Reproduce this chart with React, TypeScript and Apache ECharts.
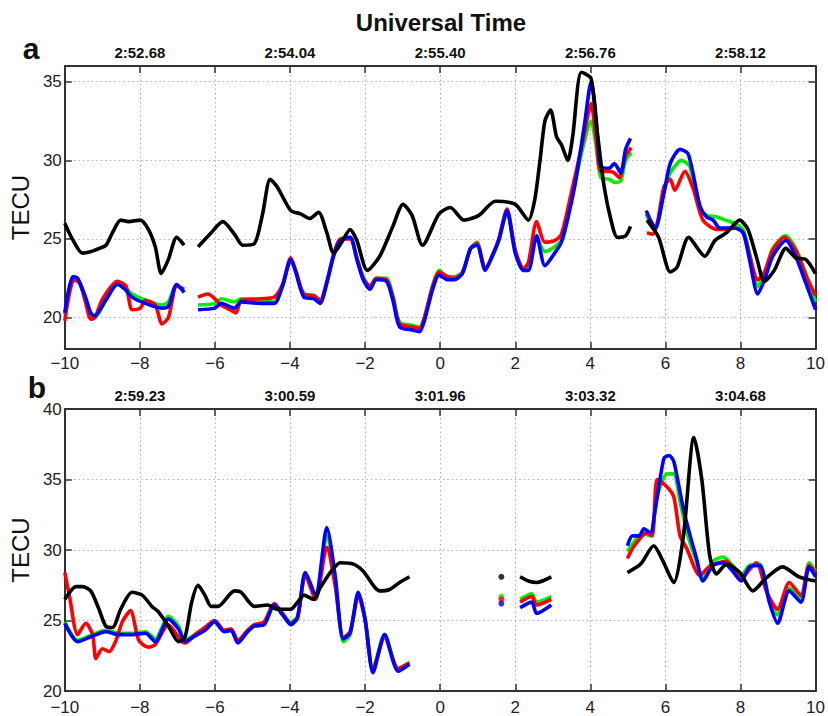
import React, { useEffect, useRef } from "react";
import * as echarts from "echarts";

type Pt = [number, number];

// ---------- tick labels ----------
const xTickValues = [-10, -8, -6, -4, -2, 0, 2, 4, 6, 8, 10];
const topTickPos = [-8, -4, 0, 4, 8];
const aTopLabels = ["2:52.68", "2:54.04", "2:55.40", "2:56.76", "2:58.12"];
const bTopLabels = ["2:59.23", "3:00.59", "3:01.96", "3:03.32", "3:04.68"];
const aYTicks = [20, 25, 30, 35];

// ---------- panel a ----------
const aBlack: Pt[][] = [
  [[-10, 26.0], [-9.8, 25.0], [-9.53, 24.1], [-9.3, 24.2], [-9.08, 24.4], [-8.9, 24.6], [-8.73, 25.4], [-8.51, 26.2], [-8.3, 26.1], [-7.99, 26.2], [-7.77, 25.6], [-7.59, 24.5], [-7.43, 22.8], [-7.24, 23.7], [-7.02, 25.1], [-6.82, 24.6]],
  [[-6.45, 24.5], [-6.1, 25.4], [-5.79, 26.1], [-5.48, 25.3], [-5.26, 24.6], [-4.95, 24.7], [-4.73, 26.6], [-4.53, 28.8], [-4.34, 28.3], [-3.98, 26.8], [-3.72, 26.6], [-3.48, 26.3], [-3.24, 26.7], [-3.02, 25.4], [-2.84, 24.1], [-2.62, 24.8], [-2.4, 25.6], [-2.22, 24.9], [-1.94, 23.0], [-1.61, 23.9], [-1.26, 25.8], [-0.99, 27.2], [-0.75, 26.5], [-0.47, 24.6], [-0.03, 26.6], [0.27, 27.0], [0.63, 26.2], [1.03, 26.5], [1.47, 27.4], [2.0, 27.2], [2.35, 26.2], [2.52, 27.5], [2.66, 30.0], [2.79, 32.5], [2.94, 33.2], [3.1, 31.5], [3.23, 31.0], [3.4, 30.0], [3.53, 31.5], [3.76, 35.6], [4.02, 35.2], [4.2, 31.5], [4.37, 28.3], [4.55, 26.2], [4.72, 25.1], [4.94, 25.2], [5.07, 25.8]],
  [[5.51, 26.2], [5.82, 25.1], [6.13, 22.9], [6.31, 23.2], [6.62, 25.1], [7.05, 23.9], [7.32, 24.9], [7.63, 25.4], [7.98, 26.2], [8.2, 25.6], [8.42, 23.9], [8.64, 22.3], [8.9, 23.0], [9.21, 24.4], [9.47, 23.8], [9.74, 23.7], [10, 22.8]],
];
const aRed: Pt[][] = [
  [[-10, 19.8], [-9.76, 22.4], [-9.6, 22.2], [-9.45, 21.0], [-9.31, 19.9], [-9.2, 20.0], [-8.99, 21.2], [-8.6, 22.3], [-8.37, 22.0], [-8.21, 20.5], [-7.99, 20.6], [-7.85, 21.1], [-7.59, 20.8], [-7.41, 19.6], [-7.24, 20.0], [-7.02, 22.0], [-6.82, 21.8]],
  [[-6.45, 21.3], [-6.19, 21.5], [-5.83, 20.8], [-5.6, 20.5], [-5.44, 20.3], [-5.3, 21.1], [-4.78, 21.2], [-4.42, 21.3], [-4.2, 22.1], [-3.98, 23.8], [-3.85, 23.0], [-3.63, 21.5], [-3.37, 21.4], [-3.2, 21.1], [-3.02, 22.3], [-2.84, 24.0], [-2.66, 25.0], [-2.4, 25.0], [-2.22, 23.8], [-2.05, 22.5], [-1.87, 22.0], [-1.7, 22.5], [-1.43, 22.4], [-1.26, 21.3], [-1.08, 19.6], [-0.73, 19.4], [-0.55, 19.3], [-0.42, 20.0], [-0.2, 22.0], [-0.03, 22.9], [0.2, 22.6], [0.37, 22.5], [0.59, 22.8], [0.81, 24.4], [0.98, 24.7], [1.2, 23.1], [1.4, 24.0], [1.56, 25.0], [1.78, 26.9], [2.0, 24.3], [2.22, 23.1], [2.35, 23.5], [2.57, 26.1], [2.79, 24.8], [3.05, 24.9], [3.23, 25.3], [3.49, 27.9], [3.8, 31.2], [4.02, 33.6], [4.15, 31.5], [4.28, 29.3], [4.5, 29.3], [4.64, 29.2], [4.77, 28.9], [4.94, 30.3], [5.09, 30.8]],
  [[5.51, 25.4], [5.67, 25.3], [5.8, 26.2], [5.96, 28.3], [6.13, 28.8], [6.25, 28.1], [6.52, 29.3], [6.74, 28.2], [7.0, 26.2], [7.37, 25.6], [7.6, 25.6], [7.84, 25.7], [8.07, 25.4], [8.24, 24.0], [8.46, 22.4], [8.64, 22.9], [8.86, 24.3], [9.17, 25.1], [9.47, 24.3], [9.74, 22.7], [10, 21.4]],
];
const aGreen: Pt[][] = [
  [[-10, 20.2], [-9.79, 22.5], [-9.66, 22.4], [-9.45, 21.2], [-9.31, 20.2], [-9.2, 20.0], [-8.91, 21.1], [-8.6, 22.1], [-8.4, 21.9], [-8.21, 21.5], [-7.85, 21.1], [-7.41, 20.8], [-7.24, 21.0], [-7.02, 22.1], [-6.82, 21.6]],
  [[-6.45, 20.8], [-6.01, 20.9], [-5.83, 21.2], [-5.48, 21.0], [-5.3, 21.2], [-4.78, 21.1], [-4.42, 21.0], [-4.2, 22.0], [-3.98, 23.7], [-3.85, 23.0], [-3.63, 21.4], [-3.37, 21.3], [-3.2, 21.0], [-3.02, 22.2], [-2.84, 24.0], [-2.66, 25.0], [-2.4, 25.1], [-2.22, 23.8], [-2.05, 22.6], [-1.87, 22.0], [-1.7, 22.5], [-1.43, 22.5], [-1.26, 21.4], [-1.08, 19.7], [-0.73, 19.5], [-0.55, 19.4], [-0.42, 20.0], [-0.2, 22.0], [-0.03, 23.0], [0.2, 22.6], [0.37, 22.6], [0.59, 22.9], [0.81, 24.4], [0.98, 24.8], [1.2, 23.1], [1.4, 23.9], [1.56, 24.9], [1.78, 26.7], [2.0, 24.2], [2.22, 23.0], [2.35, 23.1], [2.57, 25.1], [2.79, 24.2], [3.05, 24.5], [3.27, 25.0], [3.49, 27.5], [3.8, 30.8], [4.02, 32.5], [4.15, 31.0], [4.28, 28.9], [4.5, 28.8], [4.64, 28.6], [4.81, 28.7], [4.94, 30.0], [5.09, 30.5]],
  [[5.49, 26.6], [5.6, 26.0], [5.73, 25.6], [5.96, 28.0], [6.13, 29.2], [6.43, 30.0], [6.65, 29.6], [6.92, 26.9], [7.1, 26.5], [7.37, 26.4], [7.6, 26.2], [7.84, 26.0], [8.07, 25.6], [8.24, 24.1], [8.46, 22.0], [8.64, 22.7], [8.86, 24.4], [9.2, 25.2], [9.47, 24.4], [9.74, 22.8], [10, 21.0]],
];
const aBlue: Pt[][] = [
  [[-10, 20.3], [-9.79, 22.6], [-9.66, 22.5], [-9.45, 21.3], [-9.31, 20.3], [-9.2, 20.1], [-8.91, 21.1], [-8.6, 22.1], [-8.4, 21.8], [-8.21, 21.3], [-7.85, 20.9], [-7.41, 20.6], [-7.24, 20.7], [-7.02, 22.1], [-6.82, 21.6]],
  [[-6.45, 20.5], [-6.01, 20.6], [-5.83, 20.9], [-5.48, 20.6], [-5.3, 21.0], [-4.78, 20.9], [-4.42, 20.9], [-4.2, 22.0], [-3.98, 23.7], [-3.85, 22.9], [-3.63, 21.3], [-3.37, 21.2], [-3.2, 20.9], [-3.02, 22.2], [-2.84, 23.9], [-2.66, 24.9], [-2.4, 25.1], [-2.22, 23.7], [-2.05, 22.4], [-1.87, 21.8], [-1.7, 22.4], [-1.43, 22.3], [-1.26, 21.1], [-1.08, 19.4], [-0.73, 19.2], [-0.55, 19.1], [-0.42, 19.8], [-0.2, 21.8], [-0.03, 22.7], [0.2, 22.4], [0.37, 22.4], [0.59, 22.8], [0.81, 24.4], [0.98, 24.6], [1.2, 23.0], [1.4, 24.0], [1.56, 24.9], [1.78, 26.8], [2.0, 24.1], [2.22, 23.0], [2.35, 23.0], [2.57, 25.2], [2.79, 23.3], [3.05, 24.1], [3.23, 24.8], [3.58, 28.3], [3.84, 32.2], [4.02, 35.0], [4.2, 31.3], [4.28, 29.6], [4.5, 29.5], [4.64, 29.8], [4.81, 29.2], [4.94, 30.7], [5.07, 31.4]],
  [[5.49, 26.8], [5.6, 26.2], [5.73, 25.7], [5.96, 27.9], [6.13, 29.8], [6.39, 30.7], [6.61, 30.4], [6.92, 27.1], [7.1, 26.4], [7.27, 26.2], [7.45, 25.7], [7.84, 25.7], [8.07, 25.4], [8.24, 23.7], [8.46, 21.5], [8.64, 22.4], [8.86, 23.9], [9.21, 24.9], [9.47, 23.9], [9.74, 22.2], [10, 20.5]],
];

// ---------- panel b ----------
const bBlack: Pt[][] = [
  [[-10, 26.5], [-9.7, 27.4], [-9.53, 27.4], [-9.31, 27.1], [-9.09, 25.8], [-8.91, 24.6], [-8.73, 24.5], [-8.51, 25.8], [-8.21, 27.0], [-7.94, 26.8], [-7.68, 26.0], [-7.5, 25.6], [-7.24, 24.6], [-6.97, 23.5], [-6.8, 23.8], [-6.62, 26.3], [-6.45, 27.5], [-6.27, 26.8], [-6.1, 26.0], [-5.92, 26.0], [-5.48, 27.1], [-5.3, 27.0], [-4.95, 26.0], [-4.6, 26.1], [-4.34, 25.8], [-3.98, 25.8], [-3.8, 26.3], [-3.63, 26.8], [-3.37, 26.5], [-3.2, 27.3], [-2.93, 28.4], [-2.66, 29.1], [-2.31, 29.0], [-2.05, 28.5], [-1.61, 27.1], [-1.35, 27.2], [-1.08, 27.7], [-0.82, 28.1]],
  [[1.63, 28.1]],
  [[2.13, 28.1], [2.35, 27.8], [2.57, 27.7], [2.96, 28.1]],
  [[4.99, 28.4], [5.34, 29.0], [5.69, 30.3], [5.92, 29.3], [6.22, 27.7], [6.48, 31.0], [6.76, 38.0], [6.97, 35.0], [7.18, 29.6], [7.36, 28.3], [7.63, 29.0], [7.98, 28.4], [8.33, 27.1], [8.68, 28.0], [9.12, 28.8], [9.56, 28.1], [10, 27.8]],
];
const bRed: Pt[][] = [
  [[-10, 28.4], [-9.88, 26.8], [-9.66, 24.0], [-9.44, 24.8], [-9.26, 24.0], [-9.17, 22.3], [-9.0, 23.0], [-8.82, 22.8], [-8.65, 23.5], [-8.47, 24.9], [-8.25, 25.7], [-8.03, 23.6], [-7.77, 23.1], [-7.59, 23.3], [-7.24, 24.7], [-6.89, 23.5], [-6.8, 23.4], [-6.53, 24.0], [-6.27, 24.5], [-6.01, 25.0], [-5.75, 24.3], [-5.57, 24.4], [-5.39, 23.6], [-5.13, 24.3], [-4.95, 24.7], [-4.69, 24.9], [-4.42, 26.2], [-4.2, 25.5], [-3.98, 24.8], [-3.8, 25.2], [-3.59, 28.2], [-3.32, 26.5], [-3.02, 30.2], [-2.8, 27.5], [-2.58, 23.8], [-2.4, 24.2], [-2.18, 26.8], [-2.0, 25.0], [-1.79, 21.5], [-1.48, 23.8], [-1.12, 21.6], [-0.82, 22.0]],
  [[1.63, 26.5]],
  [[2.13, 26.3], [2.44, 26.7], [2.57, 26.1], [2.96, 26.5]],
  [[4.99, 29.4], [5.17, 30.3], [5.5, 31.2], [5.65, 31.0], [5.78, 35.0], [6.0, 34.6], [6.22, 33.8], [6.39, 31.0], [6.57, 30.1], [6.92, 28.2], [7.2, 28.9], [7.63, 29.2], [8.0, 28.0], [8.42, 29.1], [8.7, 27.0], [8.99, 25.8], [9.3, 27.7], [9.61, 26.8], [9.83, 28.9], [10, 28.4]],
];
const bGreen: Pt[][] = [
  [[-10, 24.9], [-9.66, 23.6], [-9.26, 24.0], [-8.91, 24.3], [-8.56, 24.1], [-8.21, 24.1], [-7.85, 24.2], [-7.59, 23.7], [-7.24, 25.3], [-6.97, 24.6], [-6.8, 23.6], [-6.53, 24.0], [-6.27, 24.4], [-6.01, 25.0], [-5.75, 24.3], [-5.57, 24.4], [-5.39, 23.5], [-5.13, 24.3], [-4.95, 24.7], [-4.69, 24.8], [-4.42, 26.1], [-4.2, 25.5], [-3.98, 24.9], [-3.8, 25.3], [-3.59, 28.3], [-3.32, 26.7], [-3.02, 31.0], [-2.8, 27.9], [-2.58, 23.5], [-2.4, 24.0], [-2.18, 26.9], [-2.0, 25.1], [-1.79, 21.6], [-1.48, 24.0], [-1.12, 21.6], [-0.82, 22.0]],
  [[1.63, 26.7]],
  [[2.13, 26.5], [2.44, 26.9], [2.57, 26.3], [2.96, 26.7]],
  [[4.99, 29.9], [5.17, 30.6], [5.4, 31.2], [5.6, 31.0], [5.78, 33.8], [6.05, 35.4], [6.22, 35.4], [6.4, 33.3], [6.6, 31.0], [6.8, 29.4], [7.0, 28.0], [7.27, 29.2], [7.54, 29.5], [7.76, 29.0], [8.02, 28.2], [8.24, 28.9], [8.51, 29.0], [8.77, 26.4], [8.99, 25.4], [9.3, 27.3], [9.61, 26.6], [9.83, 29.1], [10, 28.5]],
];
const bBlue: Pt[][] = [
  [[-10, 24.8], [-9.66, 23.5], [-9.26, 23.9], [-8.91, 24.2], [-8.56, 24.0], [-8.21, 24.0], [-7.85, 24.1], [-7.59, 23.5], [-7.24, 25.1], [-6.97, 24.4], [-6.8, 23.5], [-6.53, 23.9], [-6.27, 24.3], [-6.01, 24.9], [-5.75, 24.2], [-5.57, 24.3], [-5.39, 23.4], [-5.13, 24.2], [-4.95, 24.6], [-4.69, 24.7], [-4.42, 26.1], [-4.2, 25.4], [-3.98, 24.7], [-3.8, 25.2], [-3.59, 28.4], [-3.32, 26.8], [-3.02, 31.6], [-2.8, 28.2], [-2.58, 23.7], [-2.4, 24.1], [-2.18, 27.0], [-2.0, 25.1], [-1.79, 21.3], [-1.48, 24.0], [-1.12, 21.4], [-0.82, 21.9]],
  [[1.63, 26.2]],
  [[2.13, 25.9], [2.44, 26.3], [2.57, 25.5], [2.96, 26.1]],
  [[4.99, 30.3], [5.12, 31.0], [5.3, 31.0], [5.43, 31.5], [5.6, 31.2], [5.73, 32.9], [5.96, 36.5], [6.1, 36.7], [6.22, 36.3], [6.31, 35.2], [6.48, 32.9], [6.66, 31.0], [6.83, 29.4], [7.0, 27.8], [7.27, 28.9], [7.54, 29.1], [7.76, 28.6], [8.02, 27.8], [8.24, 28.8], [8.51, 28.9], [8.77, 26.3], [8.99, 24.8], [9.3, 27.1], [9.61, 26.3], [9.83, 28.8], [10, 28.1]],
];

const FONT = "Liberation Sans, Arial, Helvetica, sans-serif";
const AXIS_COLOR = "#333333";

function makeSeries(segs: Pt[][], color: string, axisIdx: number, z: number) {
  return segs.map((seg) =>
    seg.length === 1
      ? {
          type: "scatter",
          xAxisIndex: axisIdx,
          yAxisIndex: axisIdx,
          data: seg,
          symbolSize: 6,
          itemStyle: { color },
          z,
          silent: true,
        }
      : {
          type: "line",
          xAxisIndex: axisIdx,
          yAxisIndex: axisIdx,
          data: seg,
          showSymbol: false,
          smooth: 0.25,
          lineStyle: { color, width: 3.6 },
          itemStyle: { color },
          z,
          silent: true,
        }
  );
}

function topFormatter(labels: string[]) {
  return (v: number) => {
    const i = topTickPos.indexOf(Math.round(v));
    return i >= 0 ? labels[i] : "";
  };
}

const axisLine = { show: true, onZero: false, lineStyle: { color: AXIS_COLOR, width: 2 } };
const axisTick = { show: true, inside: true, length: 7, lineStyle: { color: AXIS_COLOR, width: 1.5 } };
const splitLine = { show: true, lineStyle: { color: "#b0b0b0", width: 1, type: [1.5, 3] } };

function bottomX(gridIndex: number, margin: number) {
  return {
    type: "value",
    gridIndex,
    position: "bottom",
    min: -10,
    max: 10,
    interval: 2,
    axisLine,
    axisTick,
    splitLine,
    axisLabel: {
      show: true,
      fontSize: 17,
      fontFamily: FONT,
      color: "#222",
      margin,
      showMinLabel: true,
      showMaxLabel: true,
      formatter: (v: number) => (xTickValues.includes(v) ? String(v).replace("-", "\u2212") : ""),
    },
  };
}
function topX(gridIndex: number, labels: string[]) {
  return {
    type: "value",
    gridIndex,
    position: "top",
    min: -10,
    max: 10,
    interval: 2,
    axisLine,
    axisTick,
    splitLine: { show: false },
    axisLabel: {
      show: true,
      fontSize: 15,
      fontWeight: "bold",
      fontFamily: FONT,
      color: "#111",
      margin: 6,
      formatter: topFormatter(labels),
    },
  };
}

export default function App() {
  const ref = useRef<HTMLDivElement>(null);
  useEffect(() => {
    if (!ref.current) return;
    const chart = echarts.init(ref.current, undefined, { renderer: "svg" });
    const option: any = {
      animation: false,
      backgroundColor: "#ffffff",
      grid: [
        { left: 62, top: 66, width: 758, height: 283 },
        { left: 62, top: 409, width: 758, height: 284 },
      ],
      xAxis: [bottomX(0, 6), topX(0, aTopLabels), bottomX(1, 8), topX(1, bTopLabels)],
      yAxis: [
        {
          type: "value",
          gridIndex: 0,
          position: "left",
          min: 18,
          max: 36,
          axisLine,
          axisTick: { ...axisTick, customValues: aYTicks },
          splitLine,
          axisLabel: { fontSize: 17, fontFamily: FONT, color: "#222", margin: 3, customValues: aYTicks },
          name: "TECU",
          nameLocation: "middle",
          nameGap: 32,
          nameTextStyle: { fontSize: 24, fontFamily: FONT, color: "#111" },
        },
        {
          type: "value",
          gridIndex: 0,
          position: "right",
          min: 18,
          max: 36,
          axisLine,
          axisTick: { ...axisTick, customValues: aYTicks },
          splitLine: { show: false },
          axisLabel: { show: false },
        },
        {
          type: "value",
          gridIndex: 1,
          position: "left",
          min: 20,
          max: 40,
          interval: 5,
          axisLine,
          axisTick,
          splitLine,
          axisLabel: { fontSize: 17, fontFamily: FONT, color: "#222", margin: 3, showMinLabel: true, showMaxLabel: true },
          name: "TECU",
          nameLocation: "middle",
          nameGap: 32,
          nameTextStyle: { fontSize: 24, fontFamily: FONT, color: "#111" },
        },
        {
          type: "value",
          gridIndex: 1,
          position: "right",
          min: 20,
          max: 40,
          interval: 5,
          axisLine,
          axisTick,
          splitLine: { show: false },
          axisLabel: { show: false },
        },
      ],
      graphic: [
        {
          type: "text",
          x: 441,
          y: 22,
          style: { text: "Universal Time", font: `bold 24px ${FONT}`, fill: "#111", textAlign: "center", textVerticalAlign: "middle" },
        },
        {
          type: "text",
          x: 31,
          y: 48,
          style: { text: "a", font: `bold 30px ${FONT}`, fill: "#111", textAlign: "center", textVerticalAlign: "middle" },
        },
        {
          type: "text",
          x: 37,
          y: 387,
          style: { text: "b", font: `bold 30px ${FONT}`, fill: "#111", textAlign: "center", textVerticalAlign: "middle" },
        },
      ],
      series: [
        ...makeSeries(aGreen, "#00ee00", 0, 2),
        ...makeSeries(aRed, "#ff0000", 0, 3),
        ...makeSeries(aBlue, "#0000ff", 0, 4),
        ...makeSeries(aBlack, "#000000", 0, 5),
        ...makeSeries(bGreen, "#00ee00", 2, 2),
        ...makeSeries(bRed, "#ff0000", 2, 3),
        ...makeSeries(bBlue, "#0000ff", 2, 4),
        ...makeSeries(bBlack, "#000000", 2, 5),
      ],
    };
    chart.setOption(option);
    return () => chart.dispose();
  }, []);
  return (
    <div
      ref={ref}
      style={{ position: "fixed", left: 0, top: 0, width: 828, height: 716, background: "#fff" }}
    />
  );
}
